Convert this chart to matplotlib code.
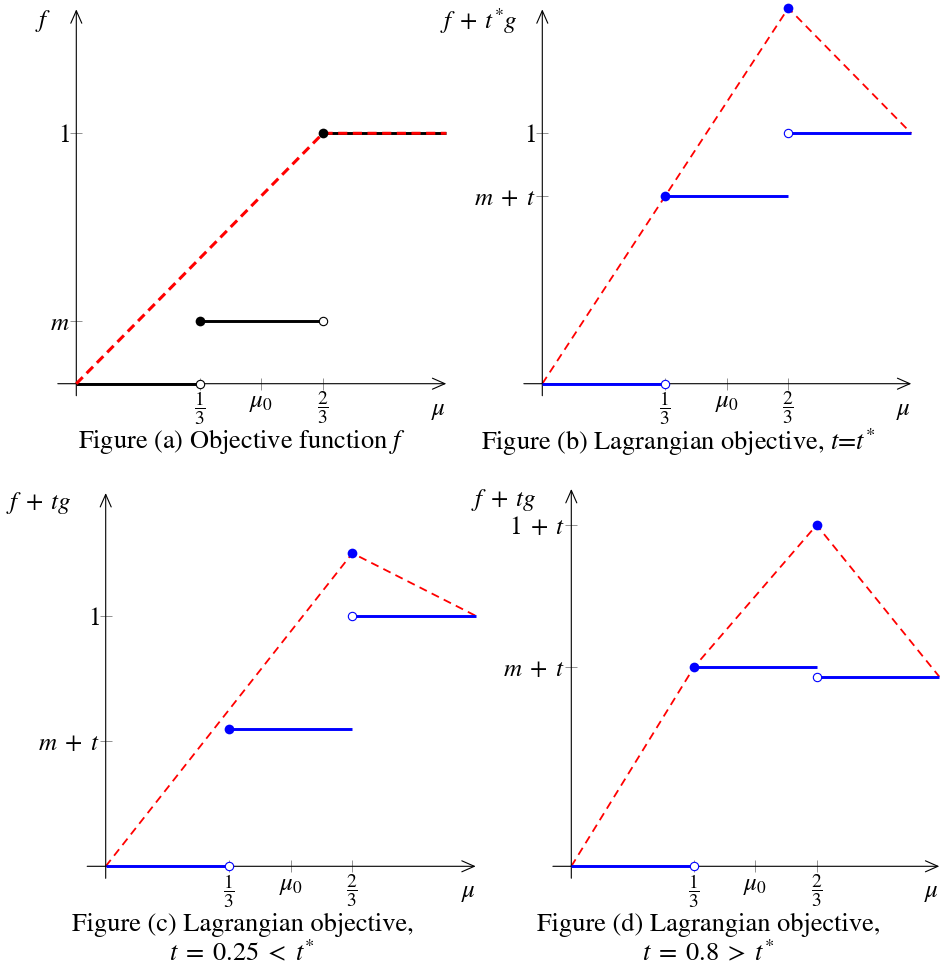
import matplotlib
matplotlib.use('Agg')
import matplotlib.pyplot as plt

plt.rcParams['mathtext.fontset'] = 'stix'
plt.rcParams['font.family'] = ['STIXGeneral', 'DejaVu Serif']
plt.rcParams['font.size'] = 18

W, H = 942, 969

# x positions shared by all panels
x_ticks = [1/3, 0.5, 2/3]
x_ticklabels = [r'$\dfrac{1}{3}$', r'$\mu_0$', r'$\dfrac{2}{3}$']

# panel (a): objective f, m = 0.25
a_red_x = [0, 2/3, 1]
a_red_y = [0, 1, 1]
a_seg_x = [[0, 1/3], [1/3, 2/3], [2/3, 1]]
a_seg_y = [0, 0.25, 1]
a_fill_x, a_fill_y = [1/3, 2/3], [0.25, 1]
a_open_x, a_open_y = [1/3, 2/3], [0, 0.25]
a_yticks, a_yticklabels = [0.25, 1], [r'$m$', r'$1$']

# panel (b): t = t* = 0.5
b_red_x = [0, 2/3, 1]
b_red_y = [0, 1.5, 1]
b_seg_x = [[0, 1/3], [1/3, 2/3], [2/3, 1]]
b_seg_y = [0, 0.75, 1]
b_fill_x, b_fill_y = [1/3, 2/3], [0.75, 1.5]
b_open_x, b_open_y = [1/3, 2/3], [0, 1]
b_yticks, b_yticklabels = [0.75, 1], [r'$m\;+\;t$', r'$1$']

# panel (c): t = 0.25
c_red_x = [0, 2/3, 1]
c_red_y = [0, 1.25, 1]
c_seg_x = [[0, 1/3], [1/3, 2/3], [2/3, 1]]
c_seg_y = [0, 0.55, 1]
c_fill_x, c_fill_y = [1/3, 2/3], [0.55, 1.25]
c_open_x, c_open_y = [1/3, 2/3], [0, 1]
c_yticks, c_yticklabels = [0.5, 1], [r'$m\;+\;t$', r'$1$']

# panel (d): t = 0.8
d_red_x = [0, 1/3, 2/3, 1]
d_red_y = [0, 1.05, 1.8, 1]
d_seg_x = [[0, 1/3], [1/3, 2/3], [2/3, 1]]
d_seg_y = [0, 1.05, 1]
d_fill_x, d_fill_y = [1/3, 2/3], [1.05, 1.8]
d_open_x, d_open_y = [1/3, 2/3], [0, 1]
d_yticks, d_yticklabels = [1.05, 1.8], [r'$m\;+\;t$', r'$1\;+\;t$']

fig = plt.figure(figsize=(W / 100, H / 100), dpi=100)


def panel(ox, oy, sx, sy, ytop, ybot, red_x, red_y, seg_x, seg_y,
          fill_x, fill_y, open_x, open_y, yticks, yticklabels,
          ylab, ylab_x, ylab_y, color, thick_red=False):
    xlim = (-0.08, 1.03)
    ylim = (ybot - 0.03, ytop + 0.05)
    left = ox + xlim[0] * sx
    top = oy - ylim[1] * sy
    w = (xlim[1] - xlim[0]) * sx
    h = (ylim[1] - ylim[0]) * sy
    ax = fig.add_axes([left / W, 1 - (top + h) / H, w / W, h / H])
    ax.set_xlim(xlim)
    ax.set_ylim(ylim)
    ax.patch.set_visible(False)
    for s in ['top', 'right']:
        ax.spines[s].set_visible(False)
    ax.spines['bottom'].set_position(('data', 0))
    ax.spines['left'].set_position(('data', 0))
    ax.spines['bottom'].set_visible(False)
    ax.spines['left'].set_visible(False)

    arrow = dict(arrowstyle='->,head_length=0.5,head_width=0.22', lw=0.8, color='black',
                 shrinkA=0, shrinkB=0)
    ax.annotate('', xy=(1.0, 0), xytext=(-0.05, 0), arrowprops=arrow)
    ax.annotate('', xy=(0, ytop), xytext=(0, ybot), arrowprops=arrow)

    if thick_red:
        for xs, y in zip(seg_x, seg_y):
            ax.plot(xs, [y, y], color=color, lw=2.1, solid_capstyle='butt', zorder=2)
        ax.plot(red_x, red_y, color='red', lw=2.2, dashes=(3, 1.8), zorder=3)
    else:
        ax.plot(red_x, red_y, color='red', lw=1.3, dashes=(4.5, 3), zorder=2)
        for xs, y in zip(seg_x, seg_y):
            ax.plot(xs, [y, y], color=color, lw=2.1, solid_capstyle='butt', zorder=3)
    ax.plot(fill_x, fill_y, 'o', color=color, ms=7, mew=0, zorder=5, clip_on=False)
    ax.plot(open_x, open_y, 'o', mfc='white', mec=color, ms=6, mew=0.8, zorder=5,
            clip_on=False)

    ax.set_xticks(x_ticks)
    ax.set_xticklabels(x_ticklabels)
    for lbl in ax.get_xticklabels():
        if 'frac' in lbl.get_text():
            lbl.set_fontsize(14)
    ax.set_yticks(yticks)
    ax.set_yticklabels(yticklabels)
    ax.tick_params(direction='inout', length=8, width=0.5, color='#666666', pad=0.5)
    ax.annotate(r'$\mu$', xy=(0.98, 0), xytext=(0, -10), textcoords='offset points',
                ha='center', va='top')
    ax.text(ylab_x, ylab_y, ylab, ha='right', va='center')
    return ax


panel(76.3, 383.7, 370, 250.4, 1.495, -0.048, a_red_x, a_red_y, a_seg_x, a_seg_y,
      a_fill_x, a_fill_y, a_open_x, a_open_y, a_yticks, a_yticklabels,
      r'$f$', -0.068, 1.45, 'black', thick_red=True)
panel(542.3, 383.7, 369, 250.4, 1.495, -0.048, b_red_x, b_red_y, b_seg_x, b_seg_y,
      b_fill_x, b_fill_y, b_open_x, b_open_y, b_yticks, b_yticklabels,
      r'$f\;+\;t^{*}g$', -0.066, 1.45, 'blue')
panel(105.7, 866.3, 370, 250.5, 1.49, -0.048, c_red_x, c_red_y, c_seg_x, c_seg_y,
      c_fill_x, c_fill_y, c_open_x, c_open_y, c_yticks, c_yticklabels,
      r'$f\;+\;tg$', -0.091, 1.45, 'blue')
panel(571.3, 866.3, 368, 189.6, 1.99, -0.063, d_red_x, d_red_y, d_seg_x, d_seg_y,
      d_fill_x, d_fill_y, d_open_x, d_open_y, d_yticks, d_yticklabels,
      r'$f\;+\;tg$', -0.093, 1.93, 'blue')

cap = 19
fig.text(242 / W, 1 - 442 / H, r'Figure (a) Objective function $f$', ha='center', va='center',
         fontsize=cap)
fig.text(678 / W, 1 - 442 / H, r'Figure (b) Lagrangian objective, $t$=$t^{*}$',
         ha='center', va='center', fontsize=cap)
fig.text(243 / W, 1 - 925 / H, 'Figure (c) Lagrangian objective,', ha='center', va='center',
         fontsize=cap)
fig.text(242 / W, 1 - 953 / H, r'$t\;=\;0.25\;<\;t^{*}$', ha='center', va='center',
         fontsize=cap)
fig.text(709 / W, 1 - 925 / H, 'Figure (d) Lagrangian objective,', ha='center', va='center',
         fontsize=cap)
fig.text(708 / W, 1 - 953 / H, r'$t\;=\;0.8\;>\;t^{*}$', ha='center', va='center',
         fontsize=cap)

fig.savefig('out.png', dpi=100)
